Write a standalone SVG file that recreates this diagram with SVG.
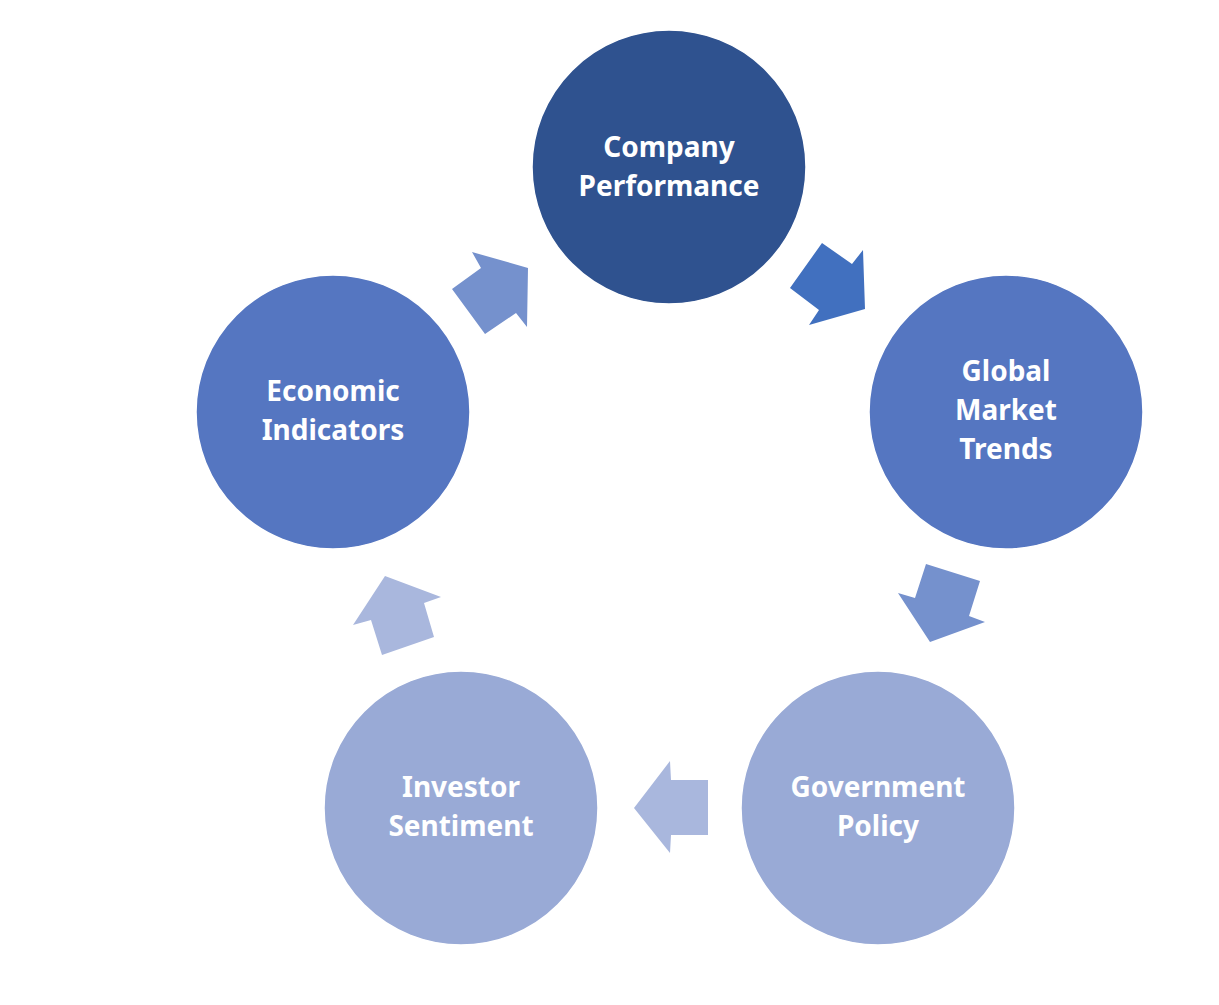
<svg xmlns="http://www.w3.org/2000/svg" width="1219" height="1005" viewBox="0 0 1219 1005">
<style>
.node circle{stroke:#ffffff;stroke-width:1.5}
.node text{font-family:"Noto Sans","Open Sans","Liberation Sans",sans-serif;font-weight:bold;font-size:28px;fill:#ffffff;text-anchor:middle}
</style>
<rect width="1219" height="1005" fill="#ffffff"/>
<g id="connectors">
<polygon points="822,243 852,264 863,250 865,309 809,325 819,310 790,288" fill="#4170BF"/>
<polygon points="926,564 980,581 969,616 985,622 930,642 898,593 915,598" fill="#7591CD"/>
<polygon points="671,780 708,780 708,835 671,835 670,853 634,808 670,761" fill="#A9B7DD"/>
<polygon points="385,576 441,597 424,603 434,637 382,655 371,620 353,625" fill="#A9B7DD"/>
<polygon points="472,252 528,268 527,327 516,313 485,334 452,289 481,268" fill="#7591CD"/>
</g>
<g id="company" class="node">
<circle cx="669" cy="167" r="137" fill="#2F528F"/>
<text x="669" y="157">Company</text>
<text x="669" y="196">Performance</text>
</g>
<g id="global" class="node">
<circle cx="1006" cy="412" r="137" fill="#5576C1"/>
<text x="1006" y="381">Global</text>
<text x="1006" y="420">Market</text>
<text x="1006" y="459">Trends</text>
</g>
<g id="government" class="node">
<circle cx="878" cy="808" r="137" fill="#99AAD6"/>
<text x="878" y="797">Government</text>
<text x="878" y="836">Policy</text>
</g>
<g id="investor" class="node">
<circle cx="461" cy="808" r="137" fill="#99AAD6"/>
<text x="461" y="797">Investor</text>
<text x="461" y="836">Sentiment</text>
</g>
<g id="economic" class="node">
<circle cx="333" cy="412" r="137" fill="#5576C1"/>
<text x="333" y="401">Economic</text>
<text x="333" y="440">Indicators</text>
</g>
</svg>
